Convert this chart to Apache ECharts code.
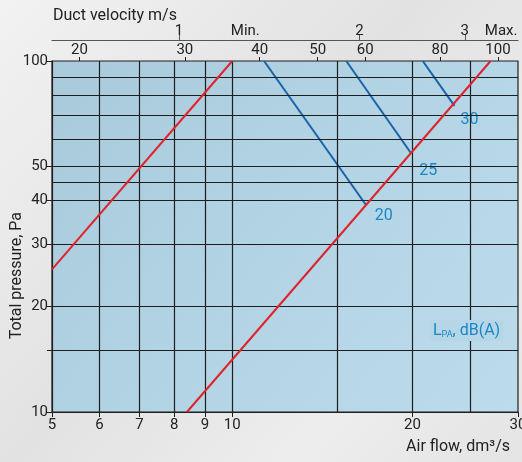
<!DOCTYPE html>
<html><head><meta charset="utf-8">
<script src="https://cdn.jsdelivr.net/npm/echarts@6/dist/echarts.min.js"></script>
<style>html,body{margin:0;padding:0;background:#eee;}#c{width:522px;height:462px;}</style>
</head><body><div id="c"></div>
<script>
// ---- data ----
const flowTicks = [5, 6, 7, 8, 9, 10, 20, 30];          // dm3/s, labelled
const flowGrid = [6, 7, 8, 9, 10, 15, 20, 25];          // vertical grid lines
const pressureLabels = [10, 20, 30, 40, 50, 100];       // Pa, labelled
const pressureTicks = [10, 15, 20, 30, 40, 50, 100];
const pressureGrid = [15, 20, 30, 40, 45, 50, 60, 70, 80, 90];
const m3hTicks = [20, 30, 40, 50, 60, 80, 100];         // m3/h scale on top
const velocityTicks = [1, 2, 3];                        // m/s
const velocityMarkValues = [1.29, 3.45];
const velocityMarkNames = ['Min.', 'Max.'];
const flowPerVelocity = 8.15;                           // dm3/s per m/s
const redMin = [[5, 25.5], [10, 100]];
const redMax = [[8.4, 10], [27, 100]];
const blue20 = [[11.3, 100], [16.7, 39]];
const blue25 = [[15.5, 100], [19.9, 54.5]];
const blue30 = [[20.8, 100], [23.5, 74.5]];

const FONT = 'Roboto';
const TXT = '#222';
const GRIDC = '#1e1e1e';
const PLOTBG = '#b5d6e6';

const chart = echarts.init(document.getElementById('c'));

const blueLabel = (txt, off) => ({
  show: true, formatter: txt, color: '#1a86c6', fontFamily: FONT, fontSize: 16,
  offset: off, backgroundColor: PLOTBG, padding: [0, 3]
});

chart.setOption({
  backgroundColor: {
    type: 'linear', x: 0, y: 0, x2: 1, y2: 1,
    colorStops: [{offset: 0, color: '#f2f2f2'}, {offset: 0.45, color: '#e2e2e2'}, {offset: 0.75, color: '#ededed'}, {offset: 1, color: '#e4e4e4'}]
  },
  animation: false,
  title: {
    text: 'Duct velocity m/s', left: 48, top: 3,
    textStyle: {fontFamily: FONT, fontSize: 16, fontWeight: 'normal', color: TXT}
  },
  grid: {
    left: 52, right: 4, top: 61, bottom: 50, show: true, containLabel: false, outerBoundsMode: 'none',
    borderColor: GRIDC, borderWidth: 1.2,
    backgroundColor: {
      type: 'linear', x: 0, y: 0, x2: 1, y2: 1,
      colorStops: [{offset: 0, color: '#a9cadb'}, {offset: 0.5, color: '#b3d4e5'}, {offset: 1, color: '#bcdcec'}]
    }
  },
  xAxis: [
    {
      type: 'log', logBase: 10, min: 5, max: 30, position: 'bottom',
      axisLine: {show: true, lineStyle: {color: GRIDC, width: 1.2}},
      axisTick: {show: true, length: 5, customValues: flowTicks, lineStyle: {color: GRIDC}},
      axisLabel: {customValues: flowTicks, color: TXT, fontFamily: FONT, fontSize: 15, margin: 6},
      splitLine: {show: false}, minorTick: {show: false}
    },
    {
      type: 'log', logBase: 10, min: 5 * 3.6, max: 30 * 3.6, position: 'top',
      axisLine: {show: false},
      axisTick: {show: true, length: 4, customValues: m3hTicks, lineStyle: {color: GRIDC}},
      axisLabel: {customValues: m3hTicks, color: TXT, fontFamily: FONT, fontSize: 15, margin: 3},
      splitLine: {show: false}
    },
    {
      type: 'log', logBase: 10, min: 5 / flowPerVelocity, max: 30 / flowPerVelocity, position: 'top', offset: 21,
      axisLine: {show: true, lineStyle: {color: '#555', width: 1.2}},
      axisTick: {show: true, length: 5, customValues: velocityTicks, lineStyle: {color: '#555'}},
      axisLabel: {
        customValues: velocityTicks.concat(velocityMarkValues), color: TXT, fontFamily: FONT, fontSize: 15, margin: 1,
        formatter: v => {
          const i = velocityMarkValues.findIndex(m => Math.abs(m - v) < 1e-6);
          return i >= 0 ? velocityMarkNames[i] : String(Math.round(v));
        }
      },
      splitLine: {show: false}
    }
  ],
  yAxis: {
    type: 'log', logBase: 10, min: 10, max: 100,
    axisLine: {show: true, lineStyle: {color: GRIDC, width: 1.2}},
    axisTick: {show: true, length: 5, customValues: pressureTicks, lineStyle: {color: GRIDC}},
    axisLabel: {customValues: pressureLabels, color: TXT, fontFamily: FONT, fontSize: 15, margin: 4},
    splitLine: {show: false}, minorTick: {show: false}
  },
  graphic: [
    {
      type: 'text', left: 9, top: 212, rotation: Math.PI / 2,
      style: {text: 'Total pressure, Pa', fontFamily: FONT, fontSize: 16, fill: TXT}
    },
    {
      type: 'text', right: 12, top: 439,
      style: {text: 'Air flow, dm³/s', fontFamily: FONT, fontSize: 16, fill: TXT}
    },
    {
      type: 'text', left: 430, top: 320, z: 100,
      style: {
        text: '{a|L}{b|PA}{a|, dB(A)}', backgroundColor: PLOTBG, padding: [2, 3],
        rich: {
          a: {fontFamily: FONT, fontSize: 16, fill: '#1a86c6', color: '#1a86c6'},
          b: {fontFamily: FONT, fontSize: 9, fill: '#1a86c6', color: '#1a86c6', verticalAlign: 'bottom', padding: [8, 0, 0, 0]}
        }
      }
    }
  ],
  series: [
    {
      type: 'line', data: [], silent: true,
      markLine: {
        silent: true, symbol: 'none', label: {show: false},
        lineStyle: {color: GRIDC, width: 1.2, type: 'solid'},
        data: flowGrid.map(v => ({xAxis: v})).concat(pressureGrid.map(v => ({yAxis: v})))
      }
    },
    {type: 'line', data: redMin, showSymbol: false, lineStyle: {color: '#e0232b', width: 2}, z: 5},
    {type: 'line', data: redMax, showSymbol: false, lineStyle: {color: '#e0232b', width: 2}, z: 5},
    {type: 'line', data: blue20, showSymbol: false, lineStyle: {color: '#1a63a6', width: 2}, z: 4, endLabel: blueLabel('20', [-2, 11])},
    {type: 'line', data: blue25, showSymbol: false, lineStyle: {color: '#1a63a6', width: 2}, z: 4, endLabel: blueLabel('25', [-3, 17])},
    {type: 'line', data: blue30, showSymbol: false, lineStyle: {color: '#1a63a6', width: 2}, z: 4, endLabel: blueLabel('30', [-5, 14])}
  ]
});
</script></body></html>
